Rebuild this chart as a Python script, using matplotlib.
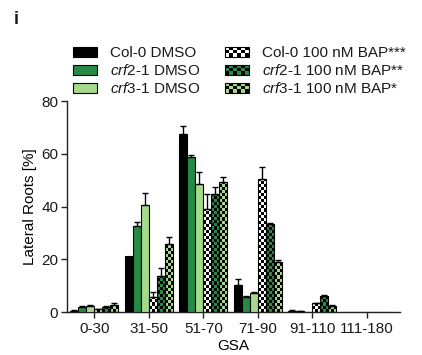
import matplotlib
matplotlib.use("Agg")
import matplotlib.pyplot as plt
import numpy as np
from matplotlib.colors import ListedColormap
from matplotlib.legend_handler import HandlerBase
from matplotlib.patches import Patch, Rectangle

plt.rcParams["font.family"] = ["Liberation Sans", "DejaVu Sans"]
plt.rcParams["mathtext.fontset"] = "custom"
plt.rcParams["mathtext.it"] = "Liberation Sans:italic"
plt.rcParams["mathtext.rm"] = "Liberation Sans"
plt.rcParams["text.color"] = "#1a1a1a"

groups = ["0-30", "31-50", "51-70", "71-90", "91-110", "111-180"]

col0_dmso = [0.5, 21.3, 67.7, 10.3, 0.5, 0.0]
col0_dmso_err = [0.2, 0.0, 2.8, 2.2, 0.1, 0.0]
crf2_dmso = [2.0, 32.7, 58.7, 5.6, 0.3, 0.0]
crf2_dmso_err = [0.3, 1.3, 1.0, 0.3, 0.1, 0.0]
crf3_dmso = [2.4, 40.7, 48.7, 7.4, 0.1, 0.0]
crf3_dmso_err = [0.3, 4.3, 4.6, 0.3, 0.0, 0.0]
col0_bap = [1.0, 5.8, 39.2, 50.6, 3.3, 0.0]
col0_bap_err = [0.3, 1.7, 5.7, 4.3, 0.3, 0.0]
crf2_bap = [2.0, 13.8, 44.8, 33.3, 6.1, 0.0]
crf2_bap_err = [0.3, 3.0, 2.5, 0.3, 0.3, 0.0]
crf3_bap = [2.8, 26.0, 49.4, 18.9, 2.4, 0.0]
crf3_bap_err = [0.5, 2.4, 2.0, 0.9, 0.2, 0.0]

labels = [
    "Col-0 DMSO",
    r"$\mathit{crf2}$-$\mathit{1}$ DMSO",
    r"$\mathit{crf3}$-$\mathit{1}$ DMSO",
    "Col-0 100 nM BAP***",
    r"$\mathit{crf2}$-$\mathit{1}$ 100 nM BAP**",
    r"$\mathit{crf3}$-$\mathit{1}$ 100 nM BAP*",
]

BLACK = "#000000"
DARK = "#268a45"
LIGHT = "#a6da8b"
WHITE = "#ffffff"

series = [
    (col0_dmso, col0_dmso_err, (BLACK, None)),
    (crf2_dmso, crf2_dmso_err, (DARK, None)),
    (crf3_dmso, crf3_dmso_err, (LIGHT, None)),
    (col0_bap, col0_bap_err, (WHITE, BLACK)),
    (crf2_bap, crf2_bap_err, (BLACK, DARK)),
    (crf3_bap, crf3_bap_err, (LIGHT, BLACK)),
]


class CheckerHandler(HandlerBase):
    """Checkerboard legend key."""

    def __init__(self, c1, c2, ncols=6, nrows=3):
        super().__init__()
        self.c1, self.c2 = c1, c2
        self.ncols, self.nrows = ncols, nrows

    def create_artists(self, legend, orig_handle, xdescent, ydescent,
                       width, height, fontsize, trans):
        arts = []
        cw = width / self.ncols
        ch = height / self.nrows
        for i in range(self.ncols):
            for j in range(self.nrows):
                color = self.c1 if (i + j) % 2 == 0 else self.c2
                arts.append(Rectangle((-xdescent + i * cw, -ydescent + j * ch), cw, ch,
                                      facecolor=color, edgecolor="none", transform=trans))
        arts.append(Rectangle((-xdescent, -ydescent), width, height, facecolor="none",
                              edgecolor="k", linewidth=0.8, transform=trans))
        return arts


fig = plt.figure(figsize=(4.22, 3.55), dpi=100)
ax = fig.add_axes([0.158, 0.121, 0.79, 0.594])

x = np.arange(len(groups))
n = len(series)
bar_w = 0.147
cell_h = 1.15

handles = []
handler_map = {}
for k, (vals, errs, (c1, c2)) in enumerate(series):
    pos = x + (k - (n - 1) / 2) * bar_w
    if c2 is None:
        ax.bar(pos, vals, width=bar_w, color=c1, edgecolor="k", linewidth=0.8, zorder=3)
        h = Patch(facecolor=c1, edgecolor="k", linewidth=0.8)
    else:
        bars = ax.bar(pos, vals, width=bar_w, facecolor="none", edgecolor="k",
                      linewidth=0.8, zorder=3)
        cmap = ListedColormap([c1, c2])
        for b, v in zip(bars, vals):
            if v <= 0:
                continue
            nrows = int(np.ceil(v / cell_h)) + 1
            grid = (np.add.outer(np.arange(nrows), np.arange(3)) % 2).astype(float)
            left = b.get_x()
            img = ax.imshow(grid, cmap=cmap, vmin=0, vmax=1, origin="lower",
                            extent=(left, left + bar_w, 0, nrows * cell_h),
                            aspect="auto", interpolation="nearest", zorder=2)
            img.set_clip_path(b)
        h = Patch(facecolor=c1, edgecolor="k")
        handler_map[h] = CheckerHandler(c1, c2)
    vals_a = np.asarray(vals)
    errs_a = np.asarray(errs)
    keep = errs_a > 0
    ax.errorbar(pos[keep], vals_a[keep], yerr=[np.zeros(keep.sum()), errs_a[keep]],
                fmt="none", ecolor="k", elinewidth=1.0, capsize=2.5, capthick=1.0,
                zorder=4)
    handles.append(h)

ax.set_xlim(-0.51, 5.61)
ax.set_ylim(0, 80)
ax.set_yticks([0, 20, 40, 60, 80])
ax.set_xticks(x)
ax.set_xticklabels(groups)
ax.tick_params(labelsize=11, width=1.0, length=4, color="#222222",
               labelcolor="#1a1a1a", pad=2)
ax.tick_params(axis="x", pad=3.5)
ax.spines["top"].set_visible(False)
ax.spines["right"].set_visible(False)
for s in ("left", "bottom"):
    ax.spines[s].set_linewidth(1.0)
    ax.spines[s].set_color("#222222")
ax.set_xlabel("GSA", fontsize=11, labelpad=2)
ax.set_ylabel("Lateral Roots [%]", fontsize=11, labelpad=3)

fig.legend(handles, labels, handler_map=handler_map, ncol=2, loc="upper left",
           bbox_to_anchor=(73 / 422, 1 - 46 / 355), frameon=False, fontsize=11,
           handlelength=1.55, handleheight=0.65, handletextpad=0.85,
           columnspacing=1.65, labelspacing=0.2, borderpad=0, borderaxespad=0)

fig.text(14 / 422, 1 - 20 / 355, "i", fontsize=13, fontweight="bold", va="center")

fig.savefig("out.png", dpi=100)
